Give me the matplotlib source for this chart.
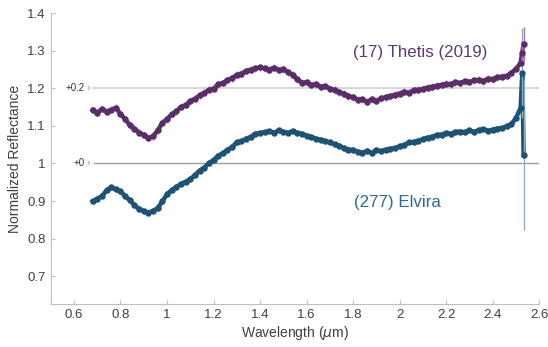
"""
Normalized reflectance spectra of (17) Thetis and (277) Elvira.
"""
import numpy as np
import matplotlib.pyplot as plt

plt.rcParams["font.family"] = ["Liberation Sans", "DejaVu Sans"]

# ========================= Data =========================
# regular sampling grid (0.68 -> 2.52 um), then the noisy red end
wl_grid = np.round(np.arange(0.68, 2.5201, 0.02), 2)
wl_tail = [2.527, 2.533]

# (17) Thetis, already shifted by +0.2
thetis = [
    1.142, 1.135, 1.145, 1.138, 1.143, 1.148, 1.132, 1.118, 1.102, 1.093,
    1.082, 1.076, 1.068, 1.072, 1.088, 1.108, 1.118, 1.131, 1.139, 1.150,
    1.156, 1.166, 1.172, 1.181, 1.188, 1.196, 1.199, 1.211, 1.214, 1.222,
    1.227, 1.236, 1.239, 1.246, 1.250, 1.253, 1.256, 1.253, 1.250, 1.255,
    1.249, 1.251, 1.243, 1.236, 1.224, 1.215, 1.216, 1.209, 1.211, 1.204,
    1.206, 1.199, 1.196, 1.189, 1.186, 1.179, 1.176, 1.170, 1.171, 1.164,
    1.171, 1.166, 1.173, 1.176, 1.179, 1.183, 1.186, 1.191, 1.188, 1.195,
    1.196, 1.198, 1.202, 1.204, 1.207, 1.209, 1.212, 1.211, 1.216, 1.214,
    1.219, 1.217, 1.221, 1.223, 1.219, 1.226, 1.224, 1.229, 1.231, 1.233,
    1.241, 1.252, 1.268,
]
thetis_tail = [1.295, 1.318]
thetis_err = 0.009
thetis_tail_err = [0.03, 0.045]

# (277) Elvira, no shift
elvira = [
    0.899, 0.906, 0.913, 0.928, 0.936, 0.931, 0.926, 0.913, 0.902, 0.889,
    0.879, 0.873, 0.869, 0.874, 0.881, 0.899, 0.918, 0.929, 0.937, 0.946,
    0.951, 0.958, 0.969, 0.981, 0.989, 1.001, 1.009, 1.021, 1.027, 1.036,
    1.044, 1.056, 1.059, 1.066, 1.071, 1.079, 1.081, 1.083, 1.086, 1.082,
    1.088, 1.084, 1.082, 1.086, 1.081, 1.079, 1.074, 1.071, 1.066, 1.063,
    1.059, 1.056, 1.051, 1.047, 1.041, 1.037, 1.036, 1.031, 1.029, 1.033,
    1.028, 1.036, 1.032, 1.037, 1.039, 1.041, 1.046, 1.049, 1.056, 1.057,
    1.061, 1.064, 1.069, 1.071, 1.076, 1.077, 1.081, 1.079, 1.084, 1.085,
    1.083, 1.088, 1.084, 1.089, 1.091, 1.087, 1.090, 1.093, 1.094, 1.099,
    1.104, 1.121, 1.148,
]
elvira_tail = [1.24, 1.022]
elvira_err = 0.007
elvira_tail_err = [0.12, 0.20]

offsets = [1.2, 1.0]
offset_labels = ["+0.2", "+0"]

x_ticks = [0.6, 0.8, 1.0, 1.2, 1.4, 1.6, 1.8, 2.0, 2.2, 2.4, 2.6]
x_tick_labels = ["0.6", "0.8", "1", "1.2", "1.4", "1.6", "1.8", "2", "2.2", "2.4", "2.6"]
y_ticks = [0.7, 0.8, 0.9, 1.0, 1.1, 1.2, 1.3, 1.4]
y_tick_labels = ["0.7", "0.8", "0.9", "1", "1.1", "1.2", "1.3", "1.4"]

PURPLE = "#5a2d6a"
BLUE = "#1c5276"

# ========================= Figure =========================
fig = plt.figure(figsize=(5.48, 3.47), dpi=100)
ax = fig.add_axes([0.0925, 0.123, 0.8915, 0.839])

# offset reference lines
ax.hlines(offsets[0], 0.68, 2.6, color="#d0d0d0", linewidth=1.2, zorder=1)
ax.hlines(offsets[1], 0.68, 2.6, color="#a0a0a0", linewidth=1.0, zorder=1)
for off, lab in zip(offsets, offset_labels):
    ax.text(0.648, off, lab, ha="right", va="center", fontsize=7, color="#333333")
    ax.text(0.668, off, "›", ha="right", va="center", fontsize=8, color="#999999")


def draw_spectrum(values, err, tail, tail_err, color, ecolor):
    wl = np.concatenate([wl_grid, wl_tail])
    y = np.concatenate([values, tail])
    e = np.concatenate([np.full(len(values), err), tail_err])
    ax.plot(wl, y, color=color, linewidth=3.2, zorder=3)
    ax.errorbar(
        wl,
        y,
        yerr=e,
        fmt="o",
        color=color,
        ecolor=ecolor,
        elinewidth=1.0,
        markersize=3.6,
        capsize=0,
        zorder=4,
    )


draw_spectrum(elvira, elvira_err, elvira_tail, elvira_tail_err, BLUE, "#8fb1c8")
draw_spectrum(thetis, thetis_err, thetis_tail, thetis_tail_err, PURPLE, "#9a7fae")

ax.text(2.09, 1.296, "(17) Thetis (2019)", ha="center", va="center",
        fontsize=12.2, color="#5c3a74")
ax.text(1.99, 0.895, "(277) Elvira", ha="center", va="center",
        fontsize=12.2, color="#2e6a8e")

# axes styling
ax.set_xlim(0.5, 2.6)
ax.set_ylim(0.625, 1.4)
ax.set_xticks(x_ticks)
ax.set_xticklabels(x_tick_labels)
ax.set_yticks(y_ticks)
ax.set_yticklabels(y_tick_labels)
for side in ["top", "right"]:
    ax.spines[side].set_visible(False)
for side in ["left", "bottom"]:
    ax.spines[side].set_color("#bfbfbf")
ax.tick_params(direction="in", length=3, color="#bfbfbf",
               labelsize=9.5, labelcolor="#404040")
ax.set_xlabel(r"Wavelength ($\mu$m)", fontsize=10, color="#404040", labelpad=2)
ax.set_ylabel("Normalized Reflectance", fontsize=10, color="#404040", labelpad=4)

fig.savefig("out.png", dpi=100)
